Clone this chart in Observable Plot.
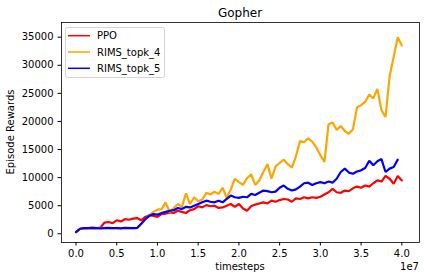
<!DOCTYPE html>
<html><head><meta charset="utf-8">
<script src="https://cdn.jsdelivr.net/npm/d3@7"></script>
<script src="https://cdn.jsdelivr.net/npm/@observablehq/plot@0.6"></script>
<style>body{margin:0;background:#fff} svg{display:block}</style>
</head><body><div id="chart"></div>
<script>
const step = 0.05e7;
const seriesNames = ["PPO", "RIMS_topk_4", "RIMS_topk_5"];
const seriesColors = ["red", "orange", "blue"];
const ppo = [300, 900, 950, 1000, 1050, 1000, 1100, 2000, 2100, 1900,
  2400, 2200, 2600, 2500, 2700, 2800, 2400, 3000, 3300, 3200,
  3000, 3500, 3600, 3800, 3700, 4100, 3900, 3700, 4200, 4400,
  4900, 4700, 5100, 4900, 5000, 4600, 4700, 5000, 5300, 4800,
  5300, 4500, 4100, 4900, 5200, 5400, 5600, 5400, 5900, 5700,
  6000, 6200, 6100, 5700, 6300, 6200, 6500, 6300, 6500, 6400,
  6600, 7000, 7400, 8000, 7400, 7300, 7700, 7600, 8100, 8400,
  8200, 8600, 8400, 9000, 9500, 9300, 10300, 9800, 8900, 10300, 9500];
const topk4 = [300, 900, 1000, 950, 1050, 1000, 1000, 1050, 1000, 950,
  1050, 1000, 1000, 1050, 950, 1000, 1700, 2500, 3300, 3900,
  4300, 4400, 5600, 3900, 4600, 5300, 4800, 7200, 5300, 6500,
  5800, 6100, 7300, 7000, 7500, 7100, 8200, 6400, 7900, 9800,
  9200, 8700, 9900, 10600, 8700, 9500, 11000, 12400, 9800, 12000,
  12600, 13200, 12400, 11800, 13800, 16500, 16300, 17000, 16400, 15400,
  14000, 12800, 19500, 19800, 18500, 19200, 18300, 17800, 18600, 22500,
  22900, 23500, 24800, 24100, 25800, 22000, 20800, 28000, 31500, 35000, 33500];
const topk5 = [300, 900, 1000, 1000, 1050, 1000, 950, 1000, 1050, 1000,
  1000, 950, 1050, 1000, 1000, 1050, 1800, 2600, 3200, 3500,
  3400, 3700, 3900, 4100, 4200, 4600, 4400, 4800, 4700, 5000,
  5300, 5600, 5900, 5700, 5600, 5900, 5600, 6200, 6800, 6500,
  6400, 6600, 6500, 7100, 6900, 7300, 7700, 7600, 7400, 7500,
  8200, 8600, 8000, 7700, 7900, 8400, 9000, 9100, 8700, 9000,
  9200, 9000, 9300, 9100, 9800, 11000, 11600, 10900, 10700, 11100,
  11300, 11700, 13000, 12200, 12900, 13300, 11000, 11600, 11900, 13200];
const xTicks = [0, 0.5e7, 1e7, 1.5e7, 2e7, 2.5e7, 3e7, 3.5e7, 4e7];
const yTicks = [0, 5000, 10000, 15000, 20000, 25000, 30000, 35000];

const rows = [];
[ppo, topk4, topk5].forEach((arr, k) => arr.forEach((v, i) => rows.push({t: i * step, v, s: seriesNames[k]})));

const chart = Plot.plot({
  width: 424, height: 280,
  marginLeft: 61, marginRight: 5, marginTop: 22, marginBottom: 38,
  style: {fontFamily: "DejaVu Sans", fontSize: "10px", background: "white", color: "black"},
  x: {domain: [-0.178e7, 4.217e7], ticks: xTicks, tickFormat: d => (d / 1e7).toFixed(1), tickSize: 3.5, tickPadding: 3.5, label: null},
  y: {domain: [-1550, 37615], ticks: yTicks, tickFormat: d => String(d), tickSize: 3.5, tickPadding: 4.5, label: null},
  color: {domain: seriesNames, range: seriesColors},
  marks: [
    Plot.line(rows, {x: "t", y: "v", z: "s", stroke: "s", strokeWidth: 2.2, strokeLinejoin: "miter"}),
    Plot.frame({stroke: "black", strokeWidth: 0.8})
  ]
});
document.getElementById("chart").appendChild(chart);

const svg = d3.select(chart);
const ff = "DejaVu Sans";
function txt(x, y, s, size, anchor) {
  return svg.append("text").attr("x", x).attr("y", y).attr("text-anchor", anchor)
    .attr("font-family", ff).attr("font-size", size).attr("fill", "black").text(s);
}
txt(240, 16.5, "Gopher", 12, "middle");
txt(240, 270, "timesteps", 10, "middle");
txt(419, 270, "1e7", 10, "end");
svg.append("text").attr("transform", "translate(13.5,132) rotate(-90)").attr("text-anchor", "middle")
  .attr("font-family", ff).attr("font-size", 10).attr("fill", "black").text("Episode Rewards");

const lg = svg.append("g");
lg.append("rect").attr("x", 65.5).attr("y", 27.5).attr("width", 99).attr("height", 50).attr("rx", 2)
  .attr("fill", "white").attr("fill-opacity", 0.8).attr("stroke", "#cccccc").attr("stroke-width", 0.8);
seriesNames.forEach((name, i) => {
  const y = 35.7 + i * 16.3;
  lg.append("line").attr("x1", 68).attr("x2", 90).attr("y1", y).attr("y2", y)
    .attr("stroke", seriesColors[i]).attr("stroke-width", 1.5);
  lg.append("text").attr("x", 97).attr("y", y).attr("dy", "0.35em").attr("text-anchor", "start")
    .attr("font-family", ff).attr("font-size", 10).attr("fill", "black").text(name);
});
</script>
</body></html>
